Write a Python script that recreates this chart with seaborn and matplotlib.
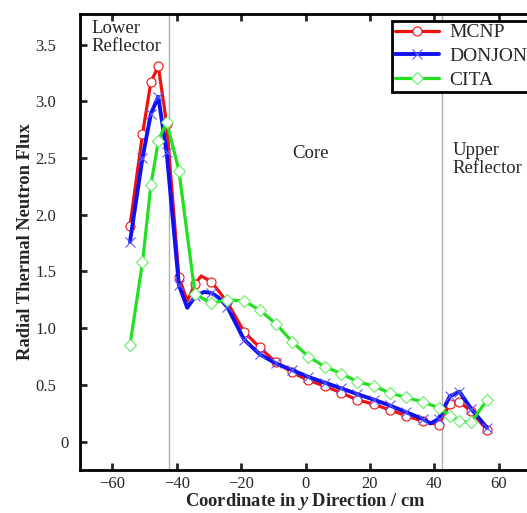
import numpy as np
import pandas as pd
import matplotlib
matplotlib.use("Agg")
import matplotlib.pyplot as plt
import seaborn as sns
from matplotlib.lines import Line2D
from matplotlib.ticker import FixedLocator, FixedFormatter
from matplotlib.transforms import ScaledTranslation

# ---- data ----
grid_x = [-54.5, -50.6, -48.0, -45.7, -43.1, -39.3, -34.3, -29.2, -24.3, -19.1, -14.2,
          -9.2, -4.1, 0.9, 6.0, 11.1, 16.0, 21.2, 26.1, 31.2, 36.4, 41.3, 44.8, 47.8,
          51.4, 56.4]

mcnp_x = [-54.5, -50.6, -48.0, -45.7, -43.1, -39.3, -36.7, -34.3, -32.4, -29.2, -24.3,
          -19.1, -14.2, -9.2, -4.1, 0.9, 6.0, 11.1, 16.0, 21.2, 26.1, 31.2, 36.4, 41.3,
          44.8, 47.8, 51.4, 56.4]
mcnp_y = [1.90, 2.71, 3.17, 3.31, 2.80, 1.45, 1.24, 1.39, 1.46, 1.41, 1.23,
          0.97, 0.83, 0.70, 0.61, 0.54, 0.49, 0.43, 0.37, 0.33, 0.28, 0.23, 0.18, 0.15,
          0.33, 0.35, 0.27, 0.10]

donjon_x = [-54.5, -50.6, -48.0, -45.7, -43.1, -39.3, -36.7, -34.3, -31.5, -29.2, -27.0,
            -24.3, -19.1, -14.2, -9.2, -4.1, 0.9, 6.0, 11.1, 16.0, 21.2, 26.1, 31.2, 36.4,
            38.8, 41.3, 44.8, 47.8, 51.4, 56.4]
donjon_y = [1.76, 2.50, 2.89, 3.04, 2.55, 1.38, 1.18, 1.28, 1.32, 1.31, 1.27,
            1.19, 0.90, 0.77, 0.69, 0.63, 0.57, 0.52, 0.47, 0.42, 0.37, 0.32, 0.26, 0.20,
            0.16, 0.20, 0.40, 0.44, 0.29, 0.12]

cita_x = grid_x
cita_y = [0.85, 1.58, 2.26, 2.65, 2.82, 2.39, 1.30, 1.22, 1.25, 1.24, 1.16,
          1.04, 0.88, 0.75, 0.66, 0.60, 0.53, 0.49, 0.43, 0.39, 0.35, 0.30, 0.23, 0.18,
          0.17, 0.37]

boundaries = [-42.3, 42.5]
x_ticks = [-60, -40, -20, 0, 20, 40, 60]
y_ticks = [0, 0.5, 1.0, 1.5, 2.0, 2.5, 3.0, 3.5]
y_tick_labels = ["0", "0.5", "1.0", "1.5", "2.0", "2.5", "3.0", "3.5"]

# ---- style ----
sns.set_style("ticks")
plt.rcParams['font.family'] = ['Liberation Serif', 'DejaVu Serif']
plt.rcParams['mathtext.fontset'] = 'custom'
plt.rcParams['mathtext.it'] = 'Liberation Serif:italic:bold'
plt.rcParams['mathtext.rm'] = 'Liberation Serif:bold'

W, H = 527, 513
fig = plt.figure(figsize=(W / 100, H / 100), dpi=100)
ax = fig.add_axes([80 / W, 1 - 470 / H, (531 - 80) / W, (470 - 14) / H])

red = '#f01010'
blue = '#1010f0'
green = '#20e020'

mk_red = [i for i, v in enumerate(mcnp_x) if v in grid_x]
mk_blue = [i for i, v in enumerate(donjon_x) if v in grid_x]

for b in boundaries:
    ax.axvline(b, color='#b0b0b0', lw=1.0, zorder=1)

red_kw = dict(color=red, lw=2.3, marker='o', markersize=6.5, markerfacecolor='white',
              markeredgecolor=red, markeredgewidth=0.8)
blue_kw = dict(color=blue, lw=2.8, marker='x', markersize=7.5, markeredgecolor='#5a5aff',
               markeredgewidth=0.8)
green_kw = dict(color=green, lw=2.3, marker='D', markersize=6.5, markerfacecolor='white',
                markeredgecolor='#66ee66', markeredgewidth=0.8)

sns.lineplot(x=mcnp_x, y=mcnp_y, ax=ax, sort=False, estimator=None, markevery=mk_red,
             zorder=3, **red_kw)
sns.lineplot(x=donjon_x, y=donjon_y, ax=ax, sort=False, estimator=None, markevery=mk_blue,
             zorder=4, **blue_kw)
sns.lineplot(x=cita_x, y=cita_y, ax=ax, sort=False, estimator=None, zorder=5, **green_kw)

ax.set_xlim(-70, 70)
ax.set_ylim(-0.25, 3.77)
ax.xaxis.set_major_locator(FixedLocator(x_ticks))
ax.yaxis.set_major_locator(FixedLocator(y_ticks))
ax.yaxis.set_major_formatter(FixedFormatter(y_tick_labels))
ax.tick_params(direction='in', length=5, width=2, labelsize=12, top=True, right=False)
ax.tick_params(axis='x', pad=4)
ax.tick_params(axis='y', pad=17)
ax.spines['right'].set_visible(False)
for s in ax.spines.values():
    s.set_linewidth(2)
    s.set_color('black')

# the "0" label sits further right in the reference
yt = ax.yaxis.get_major_ticks()
yt[0].label1.set_transform(yt[0].label1.get_transform()
                           + ScaledTranslation(12 / 100, 0, fig.dpi_scale_trans))

ax.set_xlabel('Coordinate in $y$ Direction / cm', fontsize=13.3, fontweight='bold', labelpad=-0.5)
ax.set_ylabel('Radial Thermal Neutron Flux', fontsize=13.3, fontweight='bold', labelpad=1)

ax.text(-66.5, 3.72, 'Lower\nReflector', fontsize=13.5, va='top', ha='left', linespacing=1.1)
ax.text(1.5, 2.54, 'Core', fontsize=13.5, va='center', ha='center')
ax.text(45.6, 2.64, 'Upper\nReflector', fontsize=13.5, va='top', ha='left', linespacing=1.1)

handles = [Line2D([], [], **red_kw), Line2D([], [], **blue_kw), Line2D([], [], **green_kw)]
leg = ax.legend(handles, ['MCNP', 'DONJON', 'CITA'], loc='upper left',
                bbox_to_anchor=(0.691, 0.985), borderaxespad=0, fontsize=14,
                handlelength=2.3, handletextpad=0.5, labelspacing=0.32, borderpad=0.15,
                fancybox=False, framealpha=1, edgecolor='black')
leg.get_frame().set_linewidth(2)

fig.savefig('out.png', dpi=100)
